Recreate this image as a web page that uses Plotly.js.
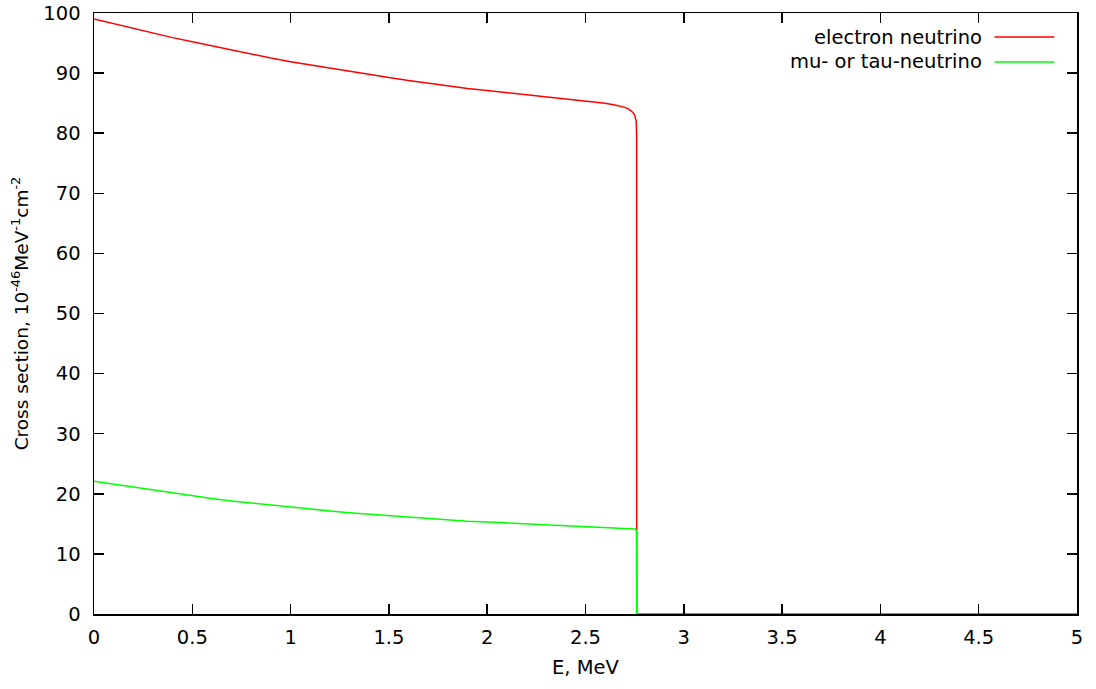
<!DOCTYPE html>
<html>
<head>
<meta charset="utf-8">
<script src="https://cdn.plot.ly/plotly-3.0.1.min.js"></script>
<style>html,body{margin:0;padding:0;background:#fff;}#chart{width:1096px;height:689px;}</style>
</head>
<body>
<div id="chart"></div>
<script>
const energy = [0, 0.1, 0.2, 0.3, 0.4, 0.5, 0.6, 0.7, 0.8, 0.9, 1.0, 1.1, 1.2, 1.3, 1.4, 1.5, 1.6, 1.7, 1.8, 1.9, 2.0, 2.1, 2.2, 2.3, 2.4, 2.5, 2.6, 2.65, 2.7, 2.72, 2.74, 2.75, 2.755, 2.758, 2.76, 2.7605, 3, 4, 5];
const electronNu = [99.0, 98.2, 97.4, 96.6, 95.9, 95.2, 94.5, 93.8, 93.2, 92.5, 91.9, 91.35, 90.8, 90.25, 89.75, 89.25, 88.75, 88.3, 87.85, 87.45, 87.1, 86.75, 86.4, 86.1, 85.8, 85.45, 85.0, 84.7, 84.3, 84.0, 83.5, 83.0, 82.4, 82.0, 80.0, 0, 0, 0, 0];
const muTauNu = [22.1, 21.6, 21.1, 20.6, 20.1, 19.65, 19.2, 18.8, 18.45, 18.1, 17.75, 17.45, 17.15, 16.85, 16.6, 16.35, 16.1, 15.85, 15.65, 15.45, 15.3, 15.15, 15.0, 14.85, 14.7, 14.55, 14.4, 14.35, 14.3, 14.25, 14.2, 14.15, 14.05, 13.9, 13.5, 0, 0, 0, 0];
const seriesNames = ["electron neutrino", "mu- or tau-neutrino"];
const seriesColors = ["#ff0000", "#00ff00"];
const xTitle = "E, MeV";
const yTitle = "Cross section, 10<sup>-46</sup>MeV<sup>-1</sup>cm<sup>-2</sup>";

const font = {family: "DejaVu Sans, sans-serif", size: 19.5, color: "#000"};
const yTitleFont = {family: "DejaVu Sans, sans-serif", size: 18.5, color: "#000"};
const seriesData = [electronNu, muTauNu];

const traces = seriesData.map((ys, i) => ({
  x: energy, y: ys, type: "scatter", mode: "lines", name: seriesNames[i],
  line: {color: seriesColors[i], width: 1.5}, showlegend: false
}));

const annotations = [];
const shapes = [];
seriesNames.forEach((n, i) => {
  const yp = 0.96 - i * 0.0415;
  annotations.push({xref: "paper", yref: "paper", x: 0.905, y: yp, xanchor: "right", yanchor: "middle",
    text: n, showarrow: false, font: font});
  shapes.push({type: "line", xref: "paper", yref: "paper", x0: 0.916, x1: 0.977, y0: yp, y1: yp,
    line: {color: seriesColors[i], width: 1.5}});
});

const axisCommon = {
  showline: true, mirror: "ticks", linecolor: "#000", linewidth: 1.5,
  ticks: "inside", ticklen: 10, tickwidth: 1.5, tickcolor: "#000",
  showgrid: false, zeroline: false, tickfont: font, automargin: false
};

const layout = {
  width: 1096, height: 689,
  margin: {l: 94, r: 19, t: 13, b: 75},
  paper_bgcolor: "#fff", plot_bgcolor: "#fff",
  font: font,
  xaxis: Object.assign({}, axisCommon, {range: [0, 5], dtick: 0.5, tick0: 0,
    ticklabelstandoff: 5, title: {text: xTitle, font: font, standoff: 12}}),
  yaxis: Object.assign({}, axisCommon, {range: [0, 100], dtick: 10, tick0: 0,
    ticklabelstandoff: 8, title: {text: yTitle, font: yTitleFont, standoff: 10}}),
  annotations: annotations, shapes: shapes, showlegend: false
};

Plotly.newPlot("chart", traces, layout, {displayModeBar: false, staticPlot: true});
</script>
</body>
</html>
